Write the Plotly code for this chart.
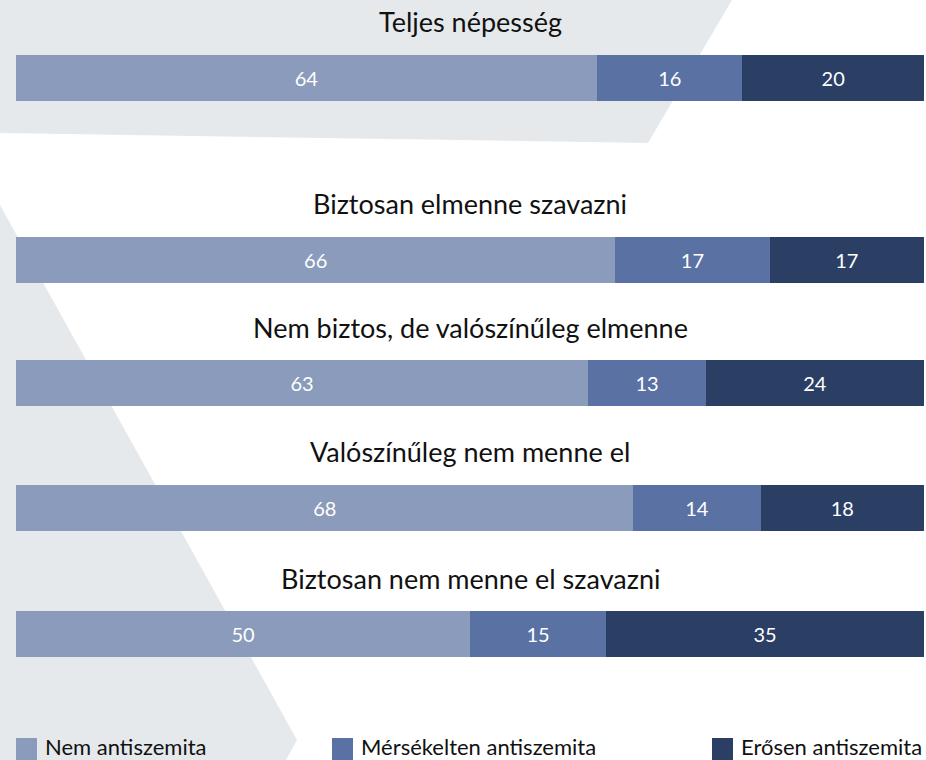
import plotly.graph_objects as go

W, H = 926, 760

groups = ["Teljes népesség", "Biztosan elmenne szavazni",
          "Nem biztos, de valószínűleg elmenne", "Valószínűleg nem menne el",
          "Biztosan nem menne el szavazni"]
series_names = ["Nem antiszemita", "Mérsékelten antiszemita", "Erősen antiszemita"]
nem = [64, 66, 63, 68, 50]
mersekelt = [16, 17, 13, 14, 15]
erosen = [20, 17, 24, 18, 35]
series_values = [nem, mersekelt, erosen]

colors = ["#8b9bbb", "#5a71a3", "#2b3e64"]
bg_gray = "#e6e9ec"
FONT = "Lato"

# pixel layout of each bar row (top, bottom)
rows_px = [(55, 101), (237, 283), (360, 406), (485, 531), (611, 657)]
X0, X1 = 16, 924


def py(y):
    return 1 - y / H


def px(x):
    return x / W


fig = go.Figure()
layout = {}
for i, (top, bot) in enumerate(rows_px):
    k = "" if i == 0 else str(i + 1)
    layout["xaxis" + k] = dict(domain=[px(X0), px(X1)], range=[0, 100], visible=False,
                               fixedrange=True, anchor="y" + k)
    layout["yaxis" + k] = dict(domain=[py(bot), py(top)], range=[-0.5, 0.5], visible=False,
                               fixedrange=True, anchor="x" + k)
    for s, vals in enumerate(series_values):
        fig.add_trace(go.Bar(
            x=[vals[i]], y=[0], orientation="h", width=1,
            xaxis="x" + k, yaxis="y" + k,
            name=series_names[s], showlegend=False,
            marker=dict(color=colors[s], line=dict(width=0)),
            text=[str(vals[i])], textposition="inside", insidetextanchor="middle",
            textangle=0, constraintext="none",
            textfont=dict(family=FONT, size=20, color="white"),
            hoverinfo="skip",
        ))

shapes = [
    dict(type="path", xref="paper", yref="paper", layer="below",
         path=f"M 0,{py(0)} L {px(732)},{py(0)} L {px(648)},{py(143)} L 0,{py(133)} Z",
         fillcolor=bg_gray, line=dict(width=0)),
    dict(type="path", xref="paper", yref="paper", layer="below",
         path=f"M 0,{py(205)} L {px(297)},{py(740)} L {px(285)},{py(762)} L 0,{py(762)} Z",
         fillcolor=bg_gray, line=dict(width=0)),
]

annotations = []
for i, (top, bot) in enumerate(rows_px):
    baseline = top - 22
    annotations.append(dict(
        text=groups[i], xref="paper", yref="paper", x=px((X0 + X1) / 2),
        y=py(baseline - 11), xanchor="center", yanchor="middle", showarrow=False,
        font=dict(family=FONT, size=27, color="#111111")))

leg_sq = [(16, 37), (332, 353), (712, 733)]
for s, (a, b) in enumerate(leg_sq):
    shapes.append(dict(type="rect", xref="paper", yref="paper",
                       x0=px(a), x1=px(b), y0=py(762), y1=py(738),
                       fillcolor=colors[s], line=dict(width=0)))
    annotations.append(dict(
        text=series_names[s], xref="paper", yref="paper", x=px(b + 6), y=py(746),
        xanchor="left", yanchor="middle", showarrow=False,
        font=dict(family=FONT, size=22, color="#111111")))

fig.update_layout(
    width=W, height=H, margin=dict(l=0, r=0, t=0, b=0),
    paper_bgcolor="white", plot_bgcolor="rgba(0,0,0,0)",
    barmode="stack", showlegend=False, bargap=0,
    shapes=shapes, annotations=annotations,
    font=dict(family=FONT),
    **layout,
)

fig.write_html(
    "out.html",
    config={"displayModeBar": False, "staticPlot": True},
    post_script="document.body.style.margin='0px';document.body.style.overflow='hidden';",
)
